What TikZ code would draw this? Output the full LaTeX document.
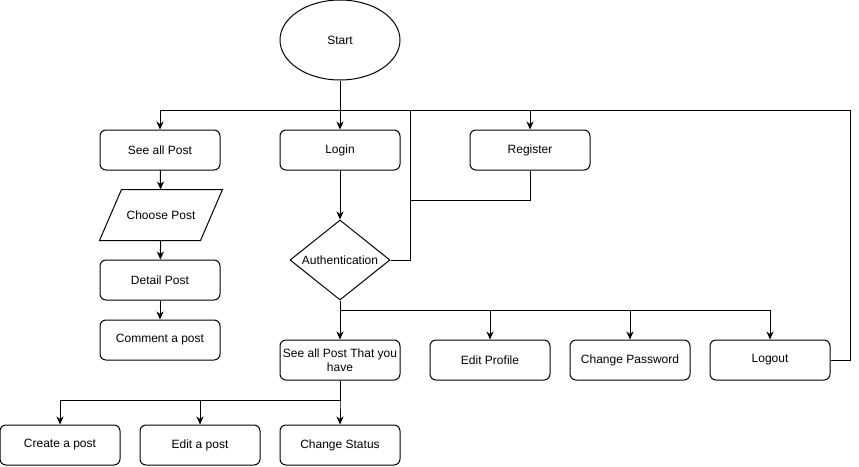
\documentclass[tikz,border=0pt]{standalone}
\usepackage{fontspec}
\setmainfont{Liberation Sans}
\usepackage{tikz}
\usetikzlibrary{arrows.meta, positioning, calc, shapes.geometric}

\begin{document}
\begin{tikzpicture}[x=1pt, y=-1pt, line width=1pt,
        >={Stealth[length=8pt, width=7pt, inset=2.5pt]},
        font=\fontsize{12}{14}\selectfont,
        box/.style={draw, rounded corners=6pt, minimum width=120pt, minimum height=40pt, align=center, inner sep=1pt},
        io/.style={minimum width=100pt, minimum height=50pt, inner sep=0pt},
        decide/.style={draw, diamond, aspect=1.25, minimum width=100pt, minimum height=80pt, inner sep=0pt},
        term/.style={draw, ellipse, minimum width=120pt, minimum height=80pt}]
        \path[use as bounding box] (0, 0) rectangle (859, 466);
        \node[term] (start) at (340, 40) {Start};
        \node[box] (seeall) at (160, 150) {See all Post};
        \node[box] (login) at (340, 150) {Login};
        \node[box] (register) at (530, 150) {Register};
        \node[io] (choose) at (161, 215) {Choose Post};
        \draw ($(choose.south west)+(-11, 0)$) -- ($(choose.south east)+(-11, 0)$)
            -- ($(choose.north east)+(11, 0)$) -- ($(choose.north west)+(11, 0)$) -- cycle;
        \node[box] (detail) at (160, 280) {Detail Post};
        \node[box] (comment) at (160, 340) {Comment a post};
        \node[decide] (auth) at (340, 260) {Authentication};
        \node[box] (mine) at (340, 360) {See all Post That you\\have};
        \node[box] (profile) at (490, 360) {Edit Profile};
        \node[box] (passwd) at (630, 360) {Change Password};
        \node[box] (logout) at (770, 360) {Logout};
        \node[box] (create) at (60, 445) {Create a post};
        \node[box] (editpost) at (200, 445) {Edit a post};
        \node[box] (status) at (340, 445) {Change Status};
        \coordinate (bus) at (850, 110);
        \coordinate (back) at (410, 200);
        \coordinate (split) at (340, 310);
        \coordinate (fork) at (340, 400);
        % top row
        \draw[->] (start) -- (login);
        \draw[->] (logout.east) -| (bus) -| (seeall.north);
        \draw[->] (register |- bus) -- (register.north);
        \draw (register.south) |- (back) -- (back |- bus);
        \draw (auth.east) -| (back);
        % left column
        \draw[->] (seeall) -- (choose);
        \draw[->] (choose) -- (detail);
        \draw[->] (detail) -- (comment);
        % after login
        \draw[->] (login) -- (auth);
        \draw[->] (auth) -- (mine);
        \foreach \n in {profile, passwd, logout} {
            \draw[->] (auth.south) |- (split -| \n) -- (\n.north);
        }
        \foreach \n in {create, editpost, status} {
            \draw[->] (mine.south) |- (fork -| \n) -- (\n.north);
        }
    \end{tikzpicture}
\end{document}
